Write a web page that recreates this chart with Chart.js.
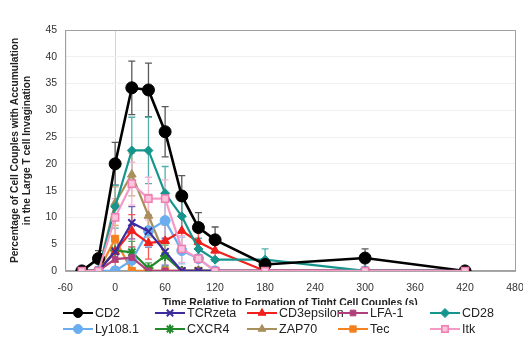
<!DOCTYPE html>
<html>
<head>
<meta charset="utf-8">
<script src="https://cdn.jsdelivr.net/npm/chart.js@4/dist/chart.umd.min.js"></script>
<style>
  html, body { margin: 0; padding: 0; background: #fff; }
  #wrap { width: 523px; height: 337px; }
</style>
</head>
<body>
<div id="wrap"><canvas id="chart" width="523" height="337"></canvas></div>
<script>
// time points (s) relative to tight cell couple formation
const times = [-40, -20, 0, 20, 40, 60, 80, 100, 120, 180, 300, 420];
const xTicks = [-60, 0, 60, 120, 180, 240, 300, 360, 420, 480];
const yTicks = [0, 5, 10, 15, 20, 25, 30, 35, 40, 45];

// % of couples with accumulation, per probe
const cd2       = [0, 2.3, 20, 34.2, 33.8, 26, 14, 8.1, 5.8, 1.2, 2.4, 0];
const tcrzeta   = [0, 0, 3.6, 9, 7.4, 3.6, 0, 0, 0, 0, 0, 0];
const cd3eps    = [0, 0, 3.6, 7.5, 5.2, 5.6, 7.5, 5.4, 3.8, 0, 0, 0];
const lfa1      = [0, 0, 2.2, 2.5, 0, 0, 0, 0, 0, 0, 0, 0];
const cd28      = [0, 0, 12, 22.5, 22.5, 14.5, 10.2, 4.1, 2.1, 2.1, 0, 0];
const ly108     = [0, 0, 0, 2, 7.5, 9.4, 3.8, 2.3, 0, 0, 0, 0];
const cxcr4     = [0, 0, 3.8, 3.5, 0.5, 2.8, 0, 0, 0, 0, 0, 0];
const zap70     = [0, 0, 12.7, 18, 10.3, 2.8, 0, 0, 0, 0, 0, 0];
const tec       = [0, 0, 6, 0, 0, 0, 0, 0, 0, 0, 0, 0];
const itk       = [0, 0, 10, 16.3, 13.5, 13.5, 4.1, 2.3, 0, 0, 0, 0];

// standard error for each point
const cd2Err     = [0, 1.5, 4, 5, 5, 4.7, 3.8, 2.8, 2.4, 0, 1.7, 0];
const tcrzetaErr = [0, 0, 2, 3, 3, 2.5, 0, 0, 0, 0, 0, 0];
const cd3epsErr  = [0, 0, 2, 3, 3, 3, 3, 2.5, 2, 0, 0, 0];
const lfa1Err    = [0, 0, 1.5, 2, 0, 0, 0, 0, 0, 0, 0, 0];
const cd28Err    = [0, 0, 4, 6.2, 6.2, 5, 3, 2, 0, 2, 0, 0];
const ly108Err   = [0, 0, 0, 2, 3, 3.5, 2.5, 2, 0, 0, 0, 0];
const cxcr4Err   = [0, 0, 2, 2, 1, 2, 0, 0, 0, 0, 0, 0];
const zap70Err   = [0, 0, 3, 4, 4, 2.5, 0, 0, 0, 0, 0, 0];
const tecErr     = [0, 0, 2.5, 0, 0, 0, 0, 0, 0, 0, 0, 0];
const itkErr     = [0, 0, 3.5, 4, 4, 3.5, 2.5, 2, 0, 0, 0, 0];

const FONT = '"Liberation Sans", Arial, sans-serif';
const toPoints = arr => arr.map((v, i) => ({ x: times[i], y: v }));

function series(label, values, errors, color, style, extra) {
  return Object.assign({
    label,
    data: toPoints(values),
    errors,
    borderColor: color,
    backgroundColor: color,
    pointBackgroundColor: color,
    pointBorderColor: color,
    pointStyle: style,
    pointRadius: 4,
    pointBorderWidth: 1,
    borderWidth: 2.2,
    tension: 0
  }, extra || {});
}

const datasets = [
  series('CD2', cd2, cd2Err, '#000000', 'circle', { pointRadius: 6, borderWidth: 2.6, order: -2 }),
  series('TCRzeta', tcrzeta, tcrzetaErr, '#3b2d9e', 'crossRot', { pointRadius: 5, pointBorderWidth: 2 }),
  series('CD3epsilon', cd3eps, cd3epsErr, '#f0201c', 'triangle', { pointRadius: 5 }),
  series('LFA-1', lfa1, lfa1Err, '#b0407c', 'rect'),
  series('CD28', cd28, cd28Err, '#16958d', 'rectRot', { pointRadius: 4.5, order: -1 }),
  series('Ly108.1', ly108, ly108Err, '#6aaef0', 'circle', { pointRadius: 5 }),
  series('CXCR4', cxcr4, cxcr4Err, '#238a2c', 'star', { pointRadius: 5, pointBorderWidth: 2 }),
  series('ZAP70', zap70, zap70Err, '#a88f5c', 'triangle', { pointRadius: 5 }),
  series('Tec', tec, tecErr, '#f5821f', 'rect', { pointRadius: 5 }),
  series('Itk', itk, itkErr, '#f49ac6', 'rect', {
    pointRadius: 5, pointBackgroundColor: '#f9c4dc', pointBorderColor: '#f07cb0', pointBorderWidth: 1.5, order: -3
  })
];

function lighten(hex, amt) {
  const n = parseInt(hex.slice(1), 16);
  const r = (n >> 16) & 255, g = (n >> 8) & 255, b = n & 255;
  const mix = c => Math.round(c + (255 - c) * amt);
  return `rgb(${mix(r)},${mix(g)},${mix(b)})`;
}

// vertical error bars with caps, placed through the chart scales
const errorBars = {
  id: 'errorBars',
  beforeDatasetsDraw(chart) {
    const { ctx, scales: { x, y } } = chart;
    ctx.save();
    chart.data.datasets.forEach(ds => {
      ctx.strokeStyle = lighten(ds.borderColor, ds.label === 'CD2' ? 0.35 : 0.25);
      ctx.lineWidth = 1.3;
      ds.data.forEach((p, i) => {
        const e = ds.errors[i];
        if (!e) return;
        const px = x.getPixelForValue(p.x);
        const top = y.getPixelForValue(p.y + e);
        const bot = y.getPixelForValue(Math.max(0, p.y - e));
        ctx.beginPath();
        ctx.moveTo(px, top); ctx.lineTo(px, bot);
        ctx.moveTo(px - 3.5, top); ctx.lineTo(px + 3.5, top);
        ctx.moveTo(px - 3.5, bot); ctx.lineTo(px + 3.5, bot);
        ctx.stroke();
      });
    });
    ctx.restore();
  }
};

// plot frame on the top and right sides
const frame = {
  id: 'frame',
  beforeDatasetsDraw(chart) {
    const { ctx, chartArea: a } = chart;
    ctx.save();
    ctx.strokeStyle = '#a0a0a0';
    ctx.lineWidth = 1;
    ctx.strokeRect(a.left + 0.5, a.top + 0.5, a.right - a.left, a.bottom - a.top);
    ctx.restore();
  }
};

// legend: line with marker, 5 columns x 2 rows under the axis title
const legendCols = [63, 155, 247, 338, 430];
const legendRows = [313, 329];
const lineLegend = {
  id: 'lineLegend',
  afterDraw(chart) {
    const ctx = chart.ctx;
    ctx.save();
    ctx.fillStyle = '#ffffff';
    ctx.fillRect(40, 305, 483, 32);
    ctx.font = '12.5px ' + FONT;
    ctx.textBaseline = 'middle';
    chart.data.datasets.forEach((ds, i) => {
      const x0 = legendCols[i % 5];
      const yy = legendRows[Math.floor(i / 5)];
      ctx.strokeStyle = ds.borderColor;
      ctx.lineWidth = 2;
      ctx.beginPath();
      ctx.moveTo(x0, yy); ctx.lineTo(x0 + 30, yy);
      ctx.stroke();
      ctx.fillStyle = ds.pointBackgroundColor;
      ctx.strokeStyle = ds.pointBorderColor;
      ctx.lineWidth = ds.pointBorderWidth;
      Chart.helpers.drawPoint(ctx, {
        pointStyle: ds.pointStyle,
        radius: Math.min(ds.pointRadius, 4.5),
        rotation: 0,
        borderWidth: ds.pointBorderWidth
      }, x0 + 15, yy);
      ctx.fillStyle = '#222';
      ctx.fillText(ds.label, x0 + 32, yy + 0.5);
    });
    ctx.restore();
  }
};

new Chart(document.getElementById('chart').getContext('2d'), {
  type: 'line',
  data: { datasets },
  plugins: [frame, errorBars, lineLegend],
  options: {
    responsive: false,
    animation: false,
    layout: { padding: { left: 9, right: 8, top: 30, bottom: 28 } },
    plugins: {
      legend: { display: false },
      tooltip: { enabled: false }
    },
    scales: {
      x: {
        type: 'linear',
        min: -60,
        max: 480,
        afterBuildTicks: axis => { axis.ticks = xTicks.map(v => ({ value: v })); },
        afterFit: axis => { axis.paddingRight = 0; },
        ticks: {
          color: '#333',
          font: { family: FONT, size: 10.5 },
          padding: 11,
          maxRotation: 0
        },
        grid: {
          color: c => (c.tick && c.tick.value === 0 ? '#d4d4d4' : 'rgba(0,0,0,0)'),
          drawTicks: false
        },
        border: { color: '#a0a0a0' },
        title: {
          display: true,
          text: 'Time Relative to Formation of Tight Cell Couples (s)',
          color: '#222',
          font: { family: FONT, size: 10.4, weight: 'bold' },
          padding: { top: -9, bottom: 0 }
        }
      },
      y: {
        min: 0,
        max: 45,
        afterBuildTicks: axis => { axis.ticks = yTicks.map(v => ({ value: v })); },
        ticks: {
          color: '#333',
          font: { family: FONT, size: 10.5 },
          padding: 8
        },
        grid: { color: '#f0f0f0', drawTicks: false },
        border: { color: '#a0a0a0' },
        title: {
          display: true,
          text: ['Percentage of Cell Couples with Accumulation', 'in the Large T cell Invagination'],
          color: '#222',
          font: { family: FONT, size: 10.2, weight: 'bold' },
          padding: { top: 0, bottom: 4 }
        }
      }
    }
  }
});
</script>
</body>
</html>
